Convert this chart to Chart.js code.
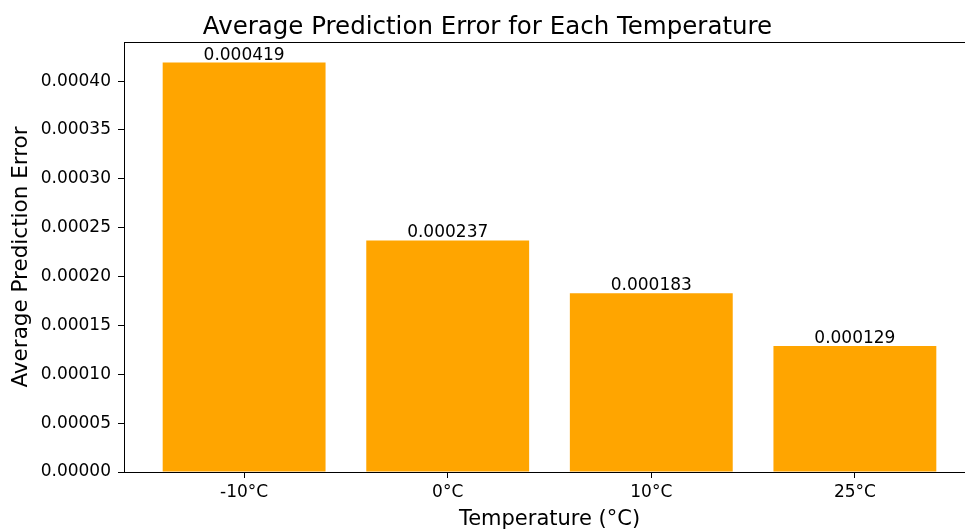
<!DOCTYPE html>
<html>
<head>
<meta charset="utf-8">
<script src="https://cdn.jsdelivr.net/npm/chart.js@4/dist/chart.umd.min.js"></script>
<style>
body{margin:0;background:#fff;overflow:hidden}
#wrap{width:1000px;height:529px}
</style>
</head>
<body>
<div id="wrap"><canvas id="errChart"></canvas></div>
<script>
let temperatures = ["-10°C","0°C","10°C","25°C"]
let avgErrors = [0.000419, 0.000237, 0.000183, 0.000129]
let yMax = 0.00044
let yStep = 0.00005

let font = "'DejaVu Sans', sans-serif"

// value printed above each bar, like bar_label
let barLabels = {
id:"barLabels",
afterDatasetsDraw(chart){
let ctx = chart.ctx
let meta = chart.getDatasetMeta(0)
ctx.save()
ctx.font = "17px " + font
ctx.fillStyle = "#000"
ctx.textAlign = "center"
ctx.textBaseline = "alphabetic"
meta.data.forEach((bar,i)=>{
ctx.fillText(avgErrors[i].toFixed(6), bar.x, bar.y - 3)
})
ctx.restore()
}
}

let ctx = document.getElementById("errChart")

new Chart(ctx,{
type:"bar",
data:{
datasets:[{
data:avgErrors.map((v,i)=>({x:i,y:v})),
backgroundColor:"#FFA500",
borderWidth:0,
barPercentage:0.8,
categoryPercentage:1
}]
},
options:{
responsive:true,
maintainAspectRatio:false,
animation:false,
layout:{padding:{left:0,right:25,top:0,bottom:0}},
plugins:{
legend:{display:false},
tooltip:{enabled:false},
title:{
display:true,
text:"Average Prediction Error for Each Temperature",
color:"#000",
font:{family:font,size:24.5,weight:"normal"},
padding:{top:13,bottom:-0.4}
}
},
scales:{
x:{
type:"linear",
min:-0.59,
max:3.59,
offset:false,
afterBuildTicks(scale){
scale.ticks = temperatures.map((t,i)=>({value:i}))
},
afterFit(scale){ scale.height = 57 },
ticks:{
color:"#000",
padding:4,
font:{family:font,size:17},
callback:(v)=>temperatures[v]
},
grid:{display:true,offset:false,drawOnChartArea:false,drawTicks:true,tickLength:6,color:"#000"},
border:{display:true,color:"#000",width:1},
title:{
display:true,
text:"Temperature (°C)",
color:"#000",
font:{family:font,size:21},
padding:{top:0,bottom:-3}
}
},
xTop:{
type:"linear",
position:"top",
min:-0.59,
max:3.59,
offset:false,
afterFit(scale){ scale.height = 0 },
ticks:{display:false},
grid:{display:false},
border:{display:true,color:"#000",width:1}
},
y:{
min:0,
max:yMax,
afterFit(scale){ scale.width = 124 },
ticks:{
stepSize:yStep,
includeBounds:false,
color:"#000",
padding:7,
font:{family:font,size:17},
callback:(v)=>v.toFixed(5)
},
grid:{display:true,drawOnChartArea:false,drawTicks:true,tickLength:6,color:"#000"},
border:{display:true,color:"#000",width:1},
title:{
display:true,
text:"Average Prediction Error",
color:"#000",
font:{family:font,size:21.5},
padding:{top:9,bottom:0}
}
}
}
},
plugins:[barLabels]
})
</script>
</body>
</html>
